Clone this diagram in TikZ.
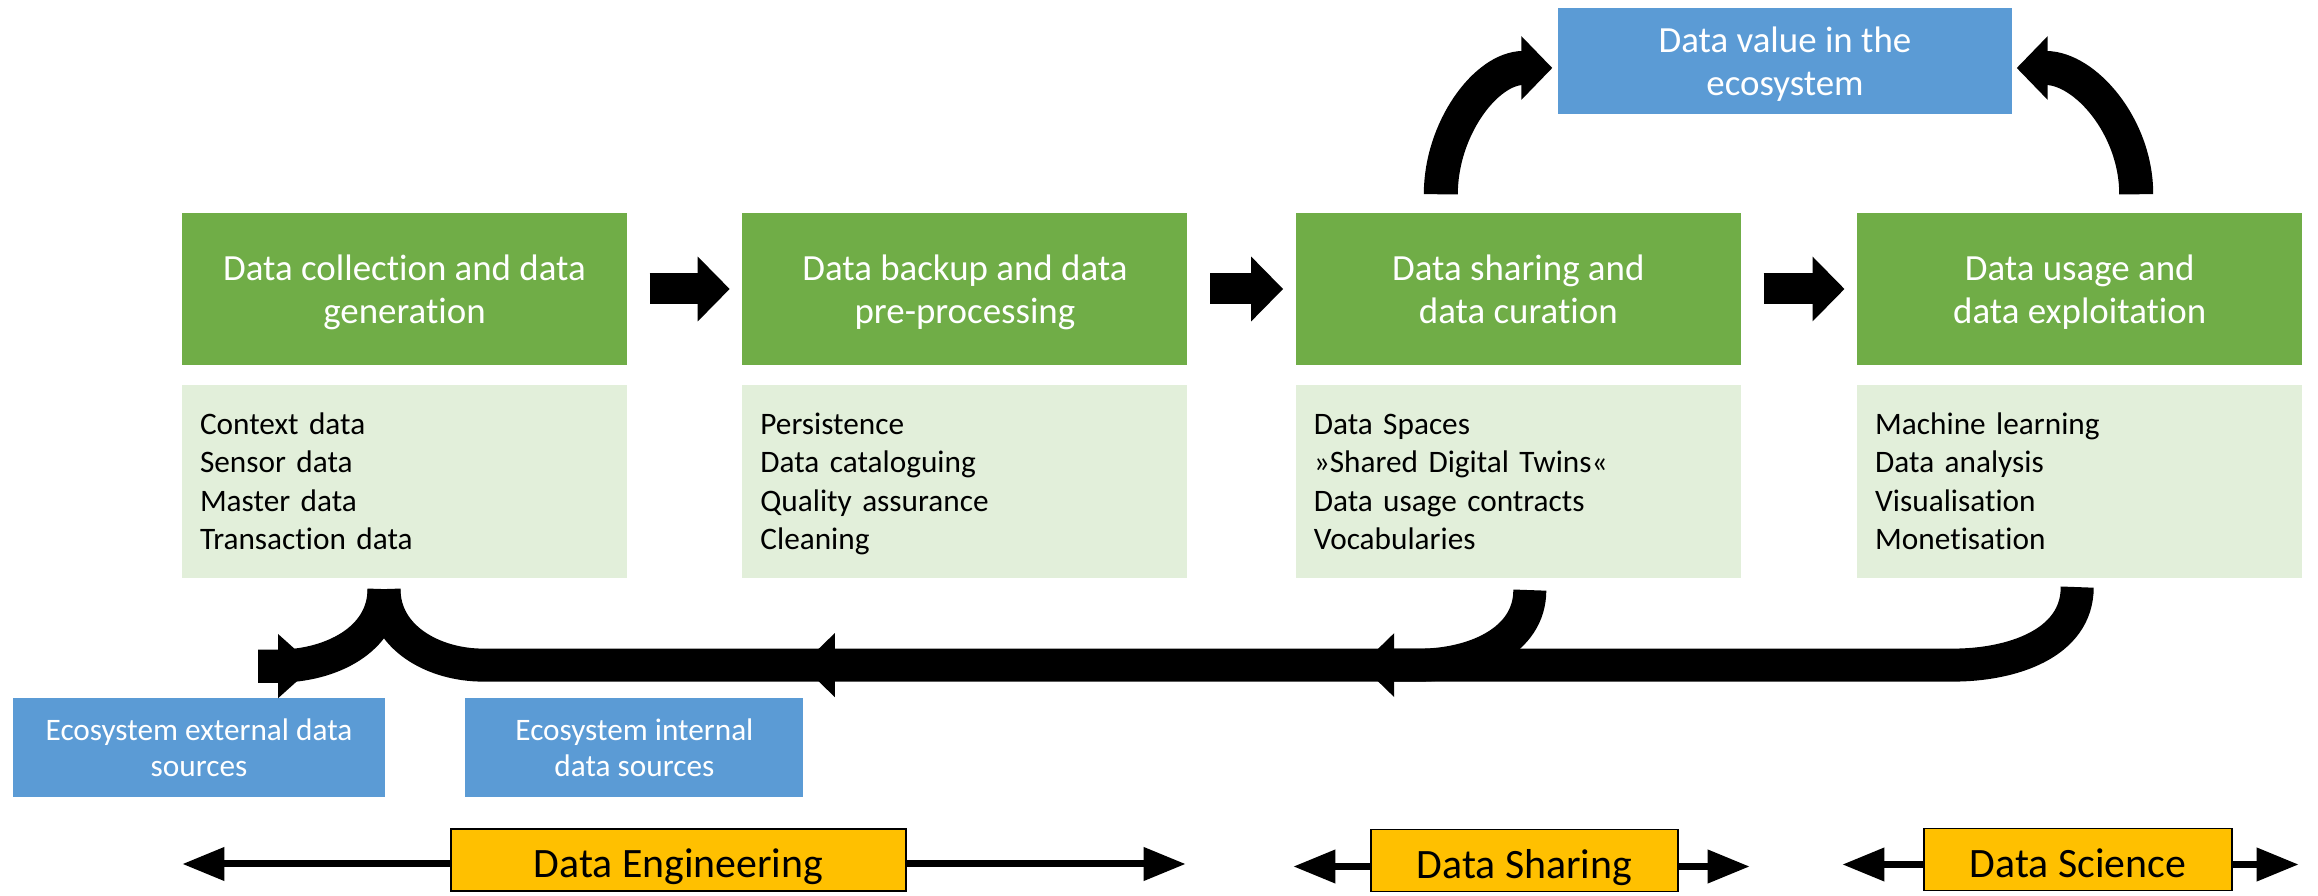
\documentclass[tikz,border=0pt]{standalone}
\usepackage{fontspec}
\setmainfont{Carlito}[Ligatures=NoCommon]
\usetikzlibrary{arrows.meta, positioning, calc}
\usepackage{xcolor}
\definecolor{PhaseGreen}{HTML}{70AD47}
\definecolor{ListGreen}{HTML}{E2EFDA}
\definecolor{SourceBlue}{HTML}{5B9BD5}
\definecolor{RoleOrange}{HTML}{FFC000}

\begin{document}
\begin{tikzpicture}[scale=1]
	\tikzstyle{phase} = [fill=PhaseGreen, text=white, minimum width=4.45cm, minimum height=1.52cm, inner sep=0pt, align=center, font=\fontsize{10.5}{12.5}\selectfont,
	execute at begin node={\rule{0pt}{0.79cm}}, execute at end node={\rule[-0.09cm]{0pt}{0.09cm}}]
	\tikzstyle{itemlist} = [fill=ListGreen, minimum width=4.45cm, minimum height=1.93cm, text width=4.09cm, inner sep=0.18cm, align=left, font=\fontsize{8.9}{10.9}\selectfont,
	execute at begin node={\rule{0pt}{0.29cm}}, execute at end node={\rule[-0.09cm]{0pt}{0.09cm}}]
	\tikzstyle{valuebox} = [phase, fill=SourceBlue, minimum width=4.54cm, minimum height=1.06cm]
	\tikzstyle{sourcebox} = [fill=SourceBlue, text=white, minimum height=0.99cm, inner sep=0pt, align=center, font=\fontsize{8.9}{10.5}\selectfont,
	execute at begin node={\rule{0pt}{0.66cm}}, execute at end node={\rule[-0.07cm]{0pt}{0.07cm}}]
	\tikzstyle{rolebox} = [draw=black, line width=0.4pt, fill=RoleOrange, minimum height=0.62cm, inner sep=0pt, font=\fontsize{11.9}{14}\selectfont,
	execute at begin node={\rule{0pt}{0.45cm}}, execute at end node={\rule[-0.09cm]{0pt}{0.09cm}}]
	\tikzstyle{blockarrow} = [line width=0.31cm, shorten <=0.22cm, shorten >=0.12cm, -{Triangle[length=0.32cm, width=0.63cm]}]
	\tikzstyle{bendarrow} = [line width=0.34cm, -{Triangle[length=0.31cm, width=0.62cm]}]
	\tikzstyle{loopline} = [line width=0.33cm]
	\tikzstyle{looparrow} = [line width=0.33cm, -{Triangle[length=0.33cm, width=0.62cm]}]
	\tikzstyle{rolearrow} = [line width=0.07cm, -{Triangle[length=0.42cm, width=0.32cm]}]

	\useasboundingbox (0,0) rectangle (23.18,-8.96);

	\node[phase] (box1) at (4.045,-2.89) {Data collection and data\\generation};
	\node[phase, right=1.14cm of box1] (box2) {Data backup and data\\pre-processing};
	\node[phase, right=1.07cm of box2] (box3) {Data sharing and\\data curation};
	\node[phase, right=1.15cm of box3] (box4) {Data usage and\\data exploitation};

	\node[itemlist, below=0.19cm of box1] (list1) {Context data\\Sensor data\\Master data\\Transaction data};
	\node[itemlist, below=0.19cm of box2] (list2) {Persistence\\Data cataloguing\\Quality assurance\\Cleaning};
	\node[itemlist, below=0.19cm of box3] (list3) {Data Spaces\\»Shared Digital Twins«\\Data usage contracts\\Vocabularies};
	\node[itemlist, below=0.19cm of box4] (list4) {Machine learning\\Data analysis\\Visualisation\\Monetisation};

	\node[valuebox] (value) at (17.85,-0.61) {Data value in the\\ecosystem};

	\node[sourcebox, minimum width=3.72cm] (ext) at (1.99,-7.475) {Ecosystem external data\\sources};
	\node[sourcebox, minimum width=3.38cm, right=0.79cm of ext] (int) {Ecosystem internal\\data sources};

	\node[rolebox, minimum width=4.55cm] (eng) at (6.785,-8.60) {Data Engineering};
	\node[rolebox, minimum width=3.07cm] (share) at (15.245,-8.605) {Data Sharing};
	\node[rolebox, minimum width=3.08cm] (sci) at (20.78,-8.595) {Data Science};

	\draw[blockarrow] (box1) -- (box2);
	\draw[blockarrow] (box2) -- (box3);
	\draw[blockarrow] (box3) -- (box4);

	\draw[bendarrow] ([xshift=-0.775cm, yshift=0.18cm]box3.north) to[out=90, in=180] ([xshift=-0.05cm, yshift=-0.07cm]value.west);
	\draw[bendarrow] ([xshift=0.565cm, yshift=0.18cm]box4.north) to[out=90, in=0] ([xshift=0.04cm, yshift=-0.07cm]value.east);

	\coordinate (fork) at ([xshift=-0.205cm, yshift=-0.1cm]list1.south);
	\coordinate (back3) at ([xshift=0.115cm, yshift=-0.11cm]list3.south);
	\coordinate (back4) at ([xshift=-0.025cm, yshift=-0.08cm]list4.south);
	\coordinate (stub) at ($(fork)+(-1.26,-0.77)$);

	\draw[looparrow] (back4) to[out=-90, in=0] ++(-1.24,-0.78) -- ++(-5.92,0);
	\draw[looparrow] (back3) to[out=-90, in=0] ++(-1.10,-0.75) -- ++(-6.18,0);
	\draw[loopline] (fork) to[out=-90, in=180] ++(0.99,-0.76) -- ++(3.37,0);
	\draw[loopline] (fork) to[out=-90, in=0] ++(-1.06,-0.77) -- (stub);
	\draw[looparrow, -{Triangle[length=0.36cm, width=0.62cm]}] (stub) -- ++(0.56,0);

	\draw[rolearrow] ([yshift=-0.04cm]eng.west) -- ++(-2.68,0);
	\draw[rolearrow] ([yshift=-0.04cm]eng.east) -- ++(2.79,0);
	\draw[rolearrow] ([yshift=-0.06cm]share.west) -- ++(-0.77,0);
	\draw[rolearrow] ([yshift=-0.06cm]share.east) -- ++(0.71,0);
	\draw[rolearrow] ([yshift=-0.05cm]sci.west) -- ++(-0.81,0);
	\draw[rolearrow] ([yshift=-0.05cm]sci.east) -- ++(0.66,0);
\end{tikzpicture}
\end{document}
